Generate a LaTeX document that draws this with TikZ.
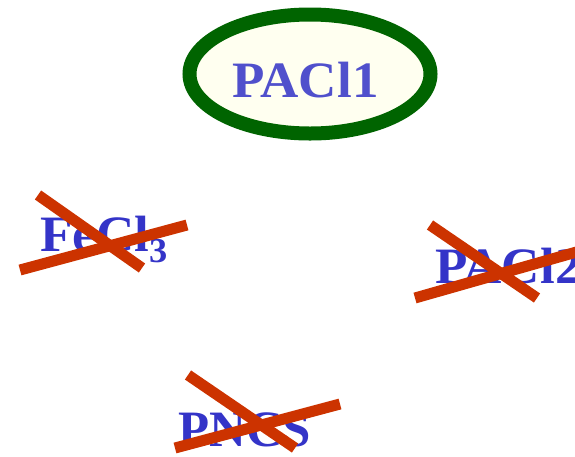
\documentclass[tikz,border=0pt]{standalone}
\usepackage{fontspec}
\setmainfont{Liberation Serif}
\definecolor{txtblue}{HTML}{3434C8}
\definecolor{pacblue}{HTML}{5050CC}
\definecolor{ringgreen}{HTML}{006400}
\definecolor{fillyellow}{HTML}{FFFFF0}
\definecolor{crossred}{HTML}{CC3300}
\tikzset{
  label/.style={font=\fontsize{51}{51}\selectfont\bfseries, text=txtblue, inner sep=0pt, anchor=base west, xscale=1.04, text depth=0pt},
  crossline/.style={draw=crossred, line width=11pt},
  ring/.style={draw=ringgreen, fill=fillyellow, line width=14pt}
}
\begin{document}
\begin{tikzpicture}[x=1pt,y=-1pt]
\useasboundingbox (0,0) rectangle (575,456);
\clip (0,0) rectangle (575,456);
% top ellipse
\draw[ring] (310,74) ellipse [x radius=120.5, y radius=59.5];
\node[label, text=pacblue] (pac1) at (232,97) {PACl1};
% FeCl3
\node[label] (fecl) at (40,251) {FeCl\raisebox{-11pt}{\fontsize{35}{35}\selectfont 3}};
\coordinate (f1a) at (38,195); \coordinate (f1b) at (142,268);
\coordinate (f2a) at (20,270); \coordinate (f2b) at (187,225);
\draw[crossline] (f1a) -- (f1b);
\draw[crossline] (f2a) -- (f2b);
% PACl2
\node[label] (pac2) at (435,283) {PACl2};
\coordinate (p1a) at (430,225); \coordinate (p1b) at (537,298);
\coordinate (p2a) at (415,298); \coordinate (p2b) at (580,251);
\draw[crossline] (p1a) -- (p1b);
\draw[crossline] (p2a) -- (p2b);
% PNCS
\node[label, xscale=0.96] (pncs) at (178,446) {PNCS};
\coordinate (n1a) at (188,375); \coordinate (n1b) at (295,448);
\coordinate (n2a) at (175,448); \coordinate (n2b) at (340,404);
\draw[crossline] (n1a) -- (n1b);
\draw[crossline] (n2a) -- (n2b);
\end{tikzpicture}
\end{document}
